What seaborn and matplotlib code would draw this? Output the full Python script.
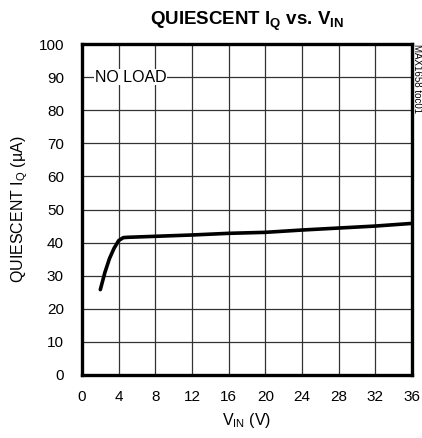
import numpy as np
import pandas as pd
import matplotlib
matplotlib.use("Agg")
import matplotlib.pyplot as plt
import seaborn as sns

# Quiescent current vs input voltage, no load
vin = [2.0, 2.5, 3.0, 3.5, 4.0, 4.5, 5.0, 6.0, 8.0, 12.0, 16.0, 20.0, 24.0, 28.0, 32.0, 36.0]
iq = [25.8, 31.0, 35.2, 38.3, 40.6, 41.5, 41.6, 41.7, 41.9, 42.3, 42.8, 43.1, 43.8, 44.4, 45.0, 45.8]
xticks = list(range(0, 37, 4))
yticks = list(range(0, 101, 10))

df = pd.DataFrame({"VIN": vin, "IQ": iq})

sns.set_style("white")
plt.rcParams['font.family'] = ['Liberation Sans', 'DejaVu Sans']
plt.rcParams['mathtext.default'] = 'regular'
plt.rcParams['text.color'] = 'black'
plt.rcParams['axes.labelcolor'] = 'black'

fig = plt.figure(figsize=(4.22, 4.38), dpi=100)
# plot area: x 82..412 px, y 44..375 px
ax = fig.add_axes([82/422, (438-375)/438, 330/422, 331/438])

sns.lineplot(data=df, x="VIN", y="IQ", ax=ax, color="black", linewidth=2.6)

ax.set_xlim(0, 36)
ax.set_ylim(0, 100)
ax.set_xticks(xticks)
ax.set_yticks(yticks)
ax.grid(True, color="#333333", linewidth=0.9)
ax.set_axisbelow(True)
for s in ax.spines.values():
    s.set_color("black")
    s.set_linewidth(2.4)
ax.tick_params(axis="x", length=0, labelsize=11, pad=11, colors="black")
ax.tick_params(axis="y", length=0, labelsize=11, pad=13, colors="black")

ax.set_xlabel("V$_{IN}$ (V)", fontsize=11.5, labelpad=5)
ax.set_ylabel("QUIESCENT I$_Q$ (\u00b5A)", fontsize=11.5, labelpad=6)
ax.set_title("QUIESCENT I$_Q$ vs. V$_{IN}$", fontsize=13.5, fontweight="bold", pad=14)

ax.text(1.4, 90, "NO LOAD", fontsize=11.5, va="center", ha="left",
        bbox=dict(facecolor="white", edgecolor="none", pad=0.5))

fig.text(417.5/422, 1 - 44/438, "MAX1658 toc01", rotation=-90, fontsize=7, va="top", ha="center")

fig.savefig("out.png", dpi=100)
